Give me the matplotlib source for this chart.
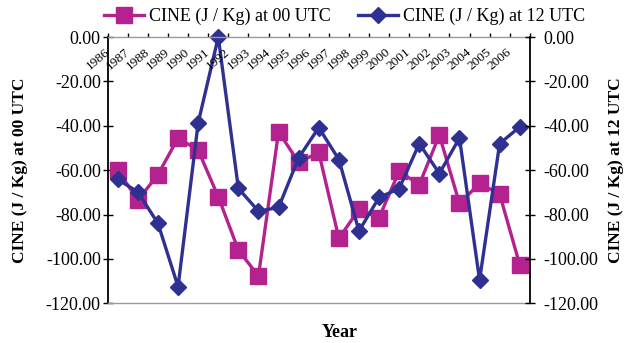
import matplotlib
matplotlib.use("Agg")
import matplotlib.pyplot as plt
from matplotlib.ticker import FormatStrFormatter, FixedLocator

plt.rcParams['font.family'] = ['Liberation Serif', 'DejaVu Serif']
plt.rcParams['axes.unicode_minus'] = False

years = [str(y) for y in range(1986, 2007)]
cine_00 = [-60.0, -73.5, -62.0, -45.5, -51.0, -72.0, -96.0, -107.7, -42.7, -56.5, -52.0,
           -90.7, -77.7, -81.4, -60.5, -66.5, -44.2, -75.0, -66.0, -70.8, -102.7]
cine_12 = [-64.2, -69.8, -84.0, -112.5, -38.7, 0.0, -68.2, -78.5, -76.8, -54.4, -40.8,
           -55.2, -87.4, -72.3, -68.3, -48.0, -61.5, -45.5, -109.5, -48.0, -40.5]
y_ticks = [0, -20, -40, -60, -80, -100, -120]

MAGENTA = '#B3228F'
NAVY = '#2E3192'

fig = plt.figure(figsize=(6.27, 3.43), dpi=100)
ax = fig.add_axes([0.1718, 0.1157, 0.6732, 0.7763])
x = list(range(len(years)))

l00, = ax.plot(x, cine_00, color=MAGENTA, lw=2.4, marker='s', ms=11,
               label='CINE (J / Kg) at 00 UTC', clip_on=False)
l12, = ax.plot(x, cine_12, color=NAVY, lw=2.4, marker='D', ms=8.5,
               label='CINE (J / Kg) at 12 UTC', clip_on=False)

ax.set_xlim(-0.5, len(years) - 0.5)
ax.set_ylim(-120, 0)

# category axis sits on top (y = 0), ticks between categories
ax.xaxis.set_ticks_position('top')
ax.set_xticks([i - 0.5 for i in range(len(years) + 1)])
ax.set_xticklabels([])
ax.tick_params(axis='x', direction='out', length=3, width=1, color='black')
for i, yr in enumerate(years):
    ax.text(i - 0.3, -4.0, yr, rotation=40, ha='right', va='top', fontsize=9.5)

ax.yaxis.set_major_locator(FixedLocator(y_ticks))
ax.yaxis.set_major_formatter(FormatStrFormatter('%.2f'))
ax.tick_params(axis='y', direction='inout', length=7, width=1, labelsize=13, pad=1.5)

ax.spines['left'].set_linewidth(1.3)
ax.spines['right'].set_visible(False)
for s in ('top', 'bottom'):
    ax.spines[s].set_color('#9A9A9A')
    ax.spines[s].set_linewidth(1)

ax2 = ax.twinx()
ax2.set_ylim(-120, 0)
ax2.yaxis.set_major_locator(FixedLocator(y_ticks))
ax2.yaxis.set_major_formatter(FormatStrFormatter('%.2f'))
ax2.tick_params(axis='y', direction='inout', length=7, width=1, labelsize=13, pad=6)
ax2.spines['right'].set_linewidth(1.3)
for s in ('top', 'bottom', 'left'):
    ax2.spines[s].set_visible(False)

ax.set_ylabel('CINE (J / Kg) at 00 UTC', fontsize=12.5, fontweight='bold', labelpad=13)
ax2.set_ylabel('CINE (J / Kg) at 12 UTC', fontsize=12.5, fontweight='bold',
               rotation=90, labelpad=7)
fig.text(0.542, 0.03, 'Year', fontsize=13, fontweight='bold', ha='center', va='center')

fig.legend(handles=[l00, l12], loc='upper center', bbox_to_anchor=(0.55, 1.025),
           ncol=2, frameon=False, fontsize=13, handlelength=2.2, columnspacing=1.5,
           handletextpad=0.3)

fig.savefig('out.png', dpi=100)
